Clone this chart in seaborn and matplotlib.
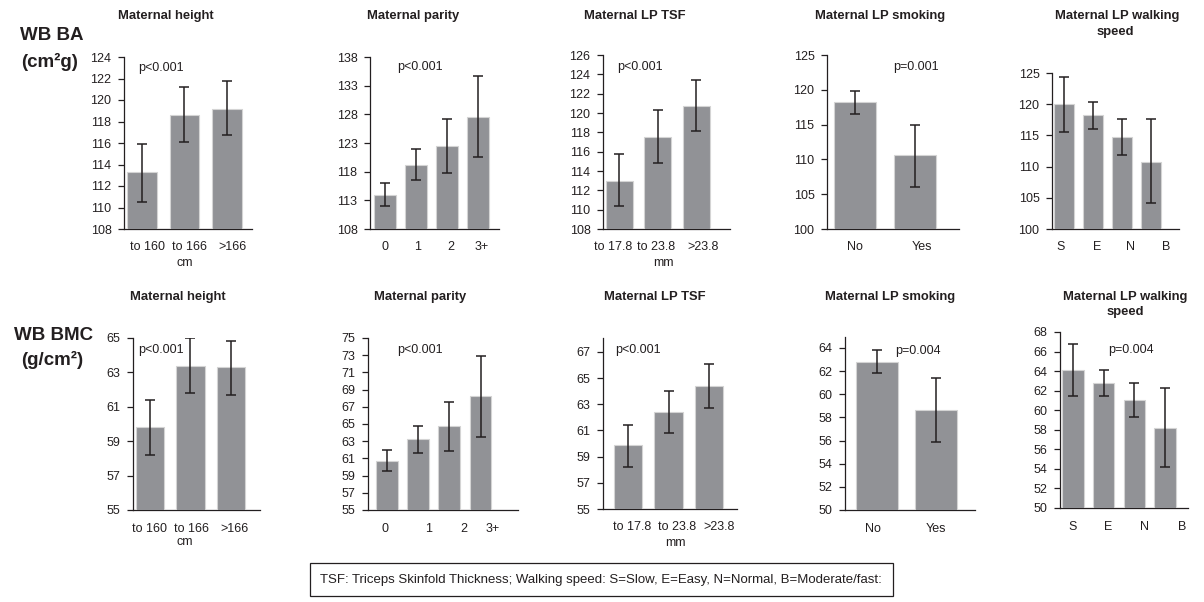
import numpy as np
import pandas as pd
import matplotlib
matplotlib.use('Agg')
import matplotlib.pyplot as plt
from matplotlib.patches import Rectangle
import seaborn as sns

# categories
height_cats = ['to 160', 'to 166', '>166']
parity_cats = ['0', '1', '2', '3+']
tsf_cats = ['to 17.8', 'to 23.8', '>23.8']
smoking_cats = ['No', 'Yes']
walking_cats = ['S', 'E', 'N', 'B']

# WB BA (top row): mean, lower and upper end of error bar
ba_height = [113.3, 118.6, 119.2]
ba_height_lo = [110.5, 116.1, 116.7]
ba_height_hi = [115.9, 121.2, 121.8]
ba_parity = [114.0, 119.2, 122.5, 127.6]
ba_parity_lo = [112.0, 116.6, 117.7, 120.5]
ba_parity_hi = [116.1, 121.9, 127.1, 134.6]
ba_tsf = [113.0, 117.5, 120.7]
ba_tsf_lo = [110.4, 114.8, 118.1]
ba_tsf_hi = [115.8, 120.3, 123.4]
ba_smoking = [118.2, 110.6]
ba_smoking_lo = [116.5, 106.0]
ba_smoking_hi = [119.8, 115.0]
ba_walking = [120.0, 118.3, 114.7, 110.8]
ba_walking_lo = [115.6, 116.1, 111.9, 104.2]
ba_walking_hi = [124.4, 120.3, 117.6, 117.6]

# WB BMC (bottom row)
bmc_height = [59.8, 63.4, 63.3]
bmc_height_lo = [58.2, 61.8, 61.7]
bmc_height_hi = [61.4, 65.0, 64.8]
bmc_parity = [60.7, 63.2, 64.8, 68.2]
bmc_parity_lo = [59.5, 61.6, 61.9, 63.5]
bmc_parity_hi = [62.0, 64.8, 67.6, 72.9]
bmc_tsf = [59.9, 62.4, 64.4]
bmc_tsf_lo = [58.2, 60.8, 62.7]
bmc_tsf_hi = [61.4, 64.0, 66.1]
bmc_smoking = [62.8, 58.6]
bmc_smoking_lo = [61.8, 55.9]
bmc_smoking_hi = [63.8, 61.4]
bmc_walking = [64.1, 62.8, 61.0, 58.2]
bmc_walking_lo = [61.5, 61.5, 59.3, 54.2]
bmc_walking_hi = [66.8, 64.1, 62.8, 62.3]

W, H = 1204, 602
BAR = '#919296'
EDGE = '#d4d4d4'
INK = '#231f20'

sns.set_theme(style='white')
plt.rcParams['font.family'] = ['Liberation Sans', 'DejaVu Sans']
plt.rcParams['text.color'] = INK

fig = plt.figure(figsize=(W / 100, H / 100), dpi=100)


def ftext(x, y, s, **kw):
    # place text by pixel position
    return fig.text(x / W, 1 - y / H, s, **kw)


def panel(box, cats, vals, lo, hi, yticks, xlim, xpos, ylim=None):
    l, r, t, b = box
    ax = fig.add_axes([l / W, 1 - b / H, (r - l) / W, (b - t) / H])
    df = pd.DataFrame({'cat': cats, 'val': vals})
    sns.barplot(data=df, x='cat', y='val', order=cats, color=BAR, saturation=1,
                width=0.7, edgecolor=EDGE, linewidth=0.8, errorbar=None,
                zorder=3, ax=ax)
    x = np.arange(len(cats))
    v = np.array(vals)
    ax.errorbar(x, v, yerr=[v - np.array(lo), np.array(hi) - v], fmt='none',
                ecolor=INK, elinewidth=1.1, capsize=3.6, capthick=1.1, zorder=4)
    ax.set_xlim(*xlim)
    ax.set_ylim(ylim if ylim else (yticks[0], yticks[-1]))
    ax.set_yticks(yticks)
    ax.set_xticks(xpos, labels=cats)
    ax.set_xlabel('')
    ax.set_ylabel('')
    sns.despine(ax=ax)
    for s in ('left', 'bottom'):
        ax.spines[s].set_color(INK)
        ax.spines[s].set_linewidth(0.9)
    ax.tick_params(axis='y', length=4, width=0.9, color=INK, direction='out',
                   pad=5, labelsize=9, labelcolor=INK, left=True)
    ax.tick_params(axis='x', length=0, pad=9, labelsize=9, labelcolor=INK)
    ax.set_facecolor('none')
    return ax


# top row: WB BA
panel((124, 252, 57, 229), height_cats, ba_height, ba_height_lo, ba_height_hi,
      np.arange(108, 125, 2), (-0.42, 2.59), [0.14, 1.12, 2.14])
panel((370, 499, 57, 229), parity_cats, ba_parity, ba_parity_lo, ba_parity_hi,
      np.arange(108, 139, 5), (-0.48, 3.68), [0, 1.06, 2.13, 3.13])
panel((603, 730, 55, 229), tsf_cats, ba_tsf, ba_tsf_lo, ba_tsf_hi,
      np.arange(108, 127, 2), (-0.42, 2.88), [-0.15, 0.97, 2.18])
panel((827, 959, 55, 229), smoking_cats, ba_smoking, ba_smoking_lo, ba_smoking_hi,
      np.arange(100, 126, 5), (-0.47, 1.73), [0, 1.12])
panel((1052, 1179, 73, 229), walking_cats, ba_walking, ba_walking_lo, ba_walking_hi,
      np.arange(100, 126, 5), (-0.41, 3.97), [-0.1, 1.14, 2.31, 3.52])

# bottom row: WB BMC
panel((133, 260, 338, 510), height_cats, bmc_height, bmc_height_lo, bmc_height_hi,
      np.arange(55, 66, 2), (-0.42, 2.72), [0, 1.02, 2.1])
panel((368, 518, 338, 510), parity_cats, bmc_parity, bmc_parity_lo, bmc_parity_hi,
      np.arange(55, 76, 2), (-0.61, 4.2), [-0.06, 1.32, 2.45, 3.39])
panel((603, 737, 338, 509), tsf_cats, bmc_tsf, bmc_tsf_lo, bmc_tsf_hi,
      np.arange(55, 68, 2), (-0.62, 2.69), [0.1, 1.2, 2.25], ylim=(55, 68.07))
panel((845, 975, 337, 510), smoking_cats, bmc_smoking, bmc_smoking_lo, bmc_smoking_hi,
      np.arange(50, 65, 2), (-0.54, 1.66), [-0.07, 1.0], ylim=(50, 64.95))
panel((1060, 1188, 332, 508), walking_cats, bmc_walking, bmc_walking_lo, bmc_walking_hi,
      np.arange(50, 69, 2), (-0.42, 3.75), [0, 1.16, 2.33, 3.55])

# panel titles
tkw = dict(ha='center', va='center', fontsize=9.4, fontweight='bold')
for x, y, s in [(166, 16, 'Maternal height'), (413, 16, 'Maternal parity'),
                (635, 16, 'Maternal LP TSF'), (880, 16, 'Maternal LP smoking'),
                (1117, 16, 'Maternal LP walking'), (1115, 32, 'speed'),
                (178, 297, 'Maternal height'), (420, 297, 'Maternal parity'),
                (655, 297, 'Maternal LP TSF'), (890, 297, 'Maternal LP smoking'),
                (1125, 297, 'Maternal LP walking'), (1125, 312, 'speed')]:
    ftext(x, y, s, **tkw)

# p values
pkw = dict(ha='left', va='center', fontsize=9)
for x, y, s in [(138, 68, 'p<0.001'), (397, 67, 'p<0.001'), (617, 67, 'p<0.001'),
                (893, 67, 'p=0.001'), (138, 350, 'p<0.001'), (397, 350, 'p<0.001'),
                (615, 350, 'p<0.001'), (895, 351, 'p=0.004'), (1108, 350, 'p=0.004')]:
    ftext(x, y, s, **pkw)

# unit labels under x axes
for x, y, s in [(185, 263, 'cm'), (663, 263, 'mm'), (185, 542, 'cm'), (675, 543, 'mm')]:
    ftext(x, y, s, ha='center', va='center', fontsize=9)

# row labels
rkw = dict(ha='center', va='center', fontsize=13.5, fontweight='bold')
ftext(52, 35, 'WB BA', **rkw)
ftext(50, 62, '(cm²g)', **rkw)
ftext(54, 335, 'WB BMC', **rkw)
ftext(52, 360, '(g/cm²)', **rkw)

# footnote box
fig.patches.append(Rectangle((310 / W, 1 - 596 / H), (893 - 310) / W, 33 / H,
                             transform=fig.transFigure, fill=False,
                             edgecolor=INK, linewidth=0.9))
ftext(601, 580, 'TSF: Triceps Skinfold Thickness; Walking speed: S=Slow, E=Easy, '
      'N=Normal, B=Moderate/fast:', ha='center', va='center', fontsize=9.5)

fig.savefig('out.png', dpi=100, facecolor='white')
